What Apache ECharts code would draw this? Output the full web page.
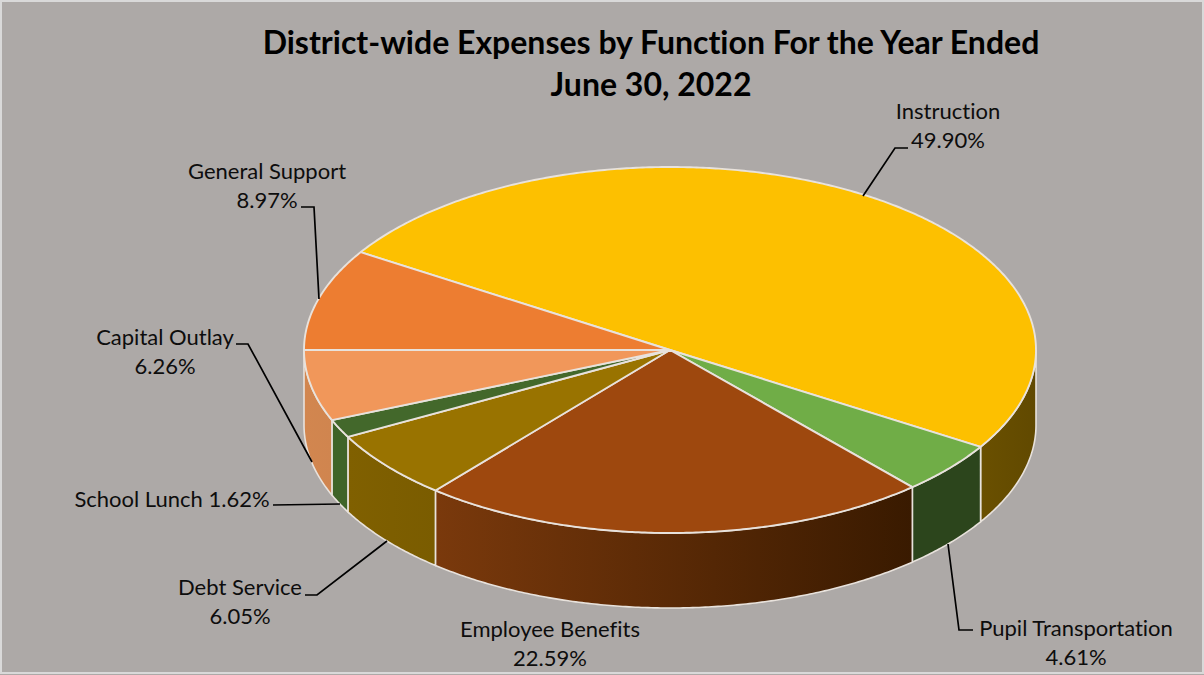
<!DOCTYPE html>
<html>
<head>
<meta charset="utf-8">
<style>html,body{margin:0;padding:0;background:#ada9a7}#c{width:1204px;height:675px}
#c text{font-variant-ligatures:none;font-feature-settings:"liga" 0}</style>
<script src="https://cdn.jsdelivr.net/npm/echarts@6/dist/echarts.min.js"></script>
</head>
<body>
<div id="c"></div>
<script>
const titleText = 'District-wide Expenses by Function For the Year Ended\nJune 30, 2022';
const categories = ['Instruction','Pupil Transportation','Employee Benefits','Debt Service','School Lunch','Capital Outlay','General Support'];
const shares = [49.90, 4.61, 22.59, 6.05, 1.62, 6.26, 8.97];
const topColors = ['#FDC000','#70AD47','#9E480E','#997300','#43682B','#F1975A','#ED7D31'];
const wallLeft  = ['#6a5000','#2c451c','#7a390c','#806000','#3f6428','#d2864f','#b05a20'];
const wallRight = ['#614900','#2c451c','#391a00','#7a5c00','#3f6428','#d0854f','#b05a20'];
const labelSeparators = ['\n','\n','\n','\n',' ','\n','\n'];
const labelCentres = [[948,125],[1076,642],[550,643],[240,601],[172,498],[165,351],[267,185]];
const leaders = [
  [[908,148],[895,148],[863,196]],
  [[973,630],[959,630],[948,544]],
  [],
  [[305,595],[317,595],[387,541]],
  [[273,505],[340,504]],
  [[236,344],[248,344],[312,462]],
  [[301,207],[314,207],[319,299]]
];
const CX = 670, CY = 350, RX = 366, RY = 183, DEPTH = 75, START = 212.3;
const EDGE = '#e8e2dc';

const sectors = [];
let cursor = START;
shares.forEach(v => { const a0 = cursor; cursor += v * 3.6; sectors.push([a0, cursor]); });

function pt(deg, dy) {
  const r = deg * Math.PI / 180;
  return [CX + RX * Math.cos(r), CY + RY * Math.sin(r) + (dy || 0)];
}
function arc(a0, a1, dy) {
  const n = Math.max(2, Math.ceil(Math.abs(a1 - a0) * 2));
  const out = [];
  for (let i = 0; i <= n; i++) out.push(pt(a0 + (a1 - a0) * i / n, dy));
  return out;
}
function frontSpan(a0, a1) {
  const ranges = [[0, 180], [360, 540]];
  for (const r of ranges) {
    const s = Math.max(a0, r[0]), e = Math.min(a1, r[1]);
    if (e > s) return [s, e];
  }
  return null;
}
const seriesData = categories.map((n, i) => ({ name: n, value: shares[i] }));

const option = {
  backgroundColor: '#ada9a7',
  animation: false,
  title: {
    text: titleText,
    left: 646, top: 15, textAlign: 'center',
    textStyle: { fontFamily: 'Lato', fontWeight: 'bold', fontSize: 32, lineHeight: 42, color: '#000' }
  },
  graphic: [{
    type: 'rect', silent: true, z: -1,
    shape: { x: 1, y: 1, width: 1202, height: 672 },
    style: { fill: 'none', stroke: '#d9d9d9', lineWidth: 2 }
  }],
  series: [
    {
      type: 'custom', coordinateSystem: 'none', silent: true, z: 1, data: seriesData,
      renderItem(params) {
        const i = params.dataIndex, sp = frontSpan(sectors[i][0], sectors[i][1]);
        if (!sp) return null;
        const pts = arc(sp[0], sp[1], 0).concat(arc(sp[1], sp[0], DEPTH));
        return {
          type: 'polygon', shape: { points: pts },
          style: {
            fill: new echarts.graphic.LinearGradient(0, 0, 1, 0, [
              { offset: 0, color: wallLeft[i] }, { offset: 1, color: wallRight[i] }
            ]),
            stroke: EDGE, lineWidth: 1.6
          }
        };
      }
    },
    {
      type: 'custom', coordinateSystem: 'none', silent: true, z: 2, data: seriesData,
      renderItem(params) {
        const i = params.dataIndex;
        return {
          type: 'polygon',
          shape: { points: [[CX, CY]].concat(arc(sectors[i][0], sectors[i][1], 0)) },
          style: { fill: topColors[i], stroke: EDGE, lineWidth: 1.9, lineJoin: 'round' }
        };
      }
    },
    {
      type: 'custom', coordinateSystem: 'none', silent: true, z: 3, data: seriesData,
      renderItem(params) {
        const i = params.dataIndex, c = labelCentres[i];
        const children = [{
          type: 'text', x: c[0], y: c[1],
          style: {
            text: categories[i] + labelSeparators[i] + shares[i].toFixed(2) + '%',
            fontFamily: 'Lato', fontSize: 22, lineHeight: 29.5,
            fill: '#0d0d0d', align: 'center', verticalAlign: 'middle'
          }
        }];
        if (leaders[i].length) children.push({
          type: 'polyline', shape: { points: leaders[i] },
          style: { fill: 'none', stroke: '#000', lineWidth: 1.7 }
        });
        return { type: 'group', children };
      }
    }
  ]
};
echarts.init(document.getElementById('c'), null, { renderer: 'svg' }).setOption(option);
</script>
</body>
</html>
